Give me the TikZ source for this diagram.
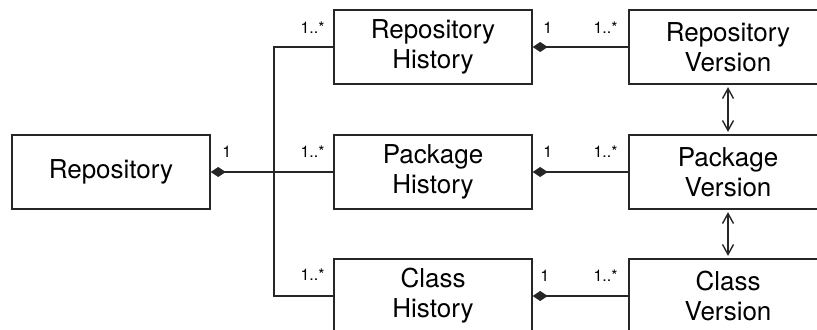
\documentclass[tikz,border=0pt]{standalone}
\usepackage{fontspec}
\setmainfont{TeX Gyre Heros}
\usetikzlibrary{arrows.meta}
\begin{document}
\begin{tikzpicture}[x=0.5pt,y=-0.5pt,
  cls/.style={draw=black!85, line width=0.7pt, minimum width=99pt, minimum height=37pt,
    inner sep=0pt, align=center, font=\fontsize{13}{15}\selectfont},
  mult/.style={inner sep=0pt, font=\fontsize{8}{9}\selectfont},
  conn/.style={draw=black!85, line width=0.7pt},
  comp/.style={conn, {Diamond[length=7.5pt,width=5pt]}-},
  bidir/.style={conn, {Straight Barb[length=5pt,width=5.5pt]}-{Straight Barb[length=5pt,width=5.5pt]}, shorten <=1.2pt, shorten >=1.2pt}]
\useasboundingbox (0,0) rectangle (817,329);
\clip (0,0) rectangle (817,329);
\node[cls] (repo) at (111,172) {Repository};
\node[cls] (rh) at (433,47) {Repository\\History};
\node[cls] (ph) at (433,172) {Package\\History};
\node[cls] (ch) at (433,296) {Class\\History};
\node[cls] (rv) at (728,47) {Repository\\Version};
\node[cls] (pv) at (728,172) {Package\\Version};
\node[cls] (cv) at (728,296) {Class\\Version};
\coordinate (j) at (274,172);
\draw[comp, line width=1.2pt] (repo.east) -- (j);
\draw[conn] (j) |- (rh.west);
\draw[conn] (j) -- (ph.west);
\draw[conn] (j) |- (ch.west);
\draw[comp] (rh.east) -- (rv.west);
\draw[comp] (ph.east) -- (pv.west);
\draw[comp] (ch.east) -- (cv.west);
\draw[bidir] (rv.south) -- (pv.north);
\draw[bidir] (pv.south) -- (cv.north);
\node[mult, anchor=base west] (m0) at (222,157) {1};
\node[mult, anchor=base east] (m1) at (325,33) {1..*};
\node[mult, anchor=base east] (m2) at (325,157) {1..*};
\node[mult, anchor=base east] (m3) at (325,280) {1..*};
\node[mult, anchor=base west] (m4) at (543,33) {1};
\node[mult, anchor=base west] (m5) at (543,157) {1};
\node[mult, anchor=base west] (m6) at (540,281) {1};
\node[mult, anchor=base east] (m7) at (618,33) {1..*};
\node[mult, anchor=base east] (m8) at (618,157) {1..*};
\node[mult, anchor=base east] (m9) at (618,281) {1..*};
\end{tikzpicture}
\end{document}
